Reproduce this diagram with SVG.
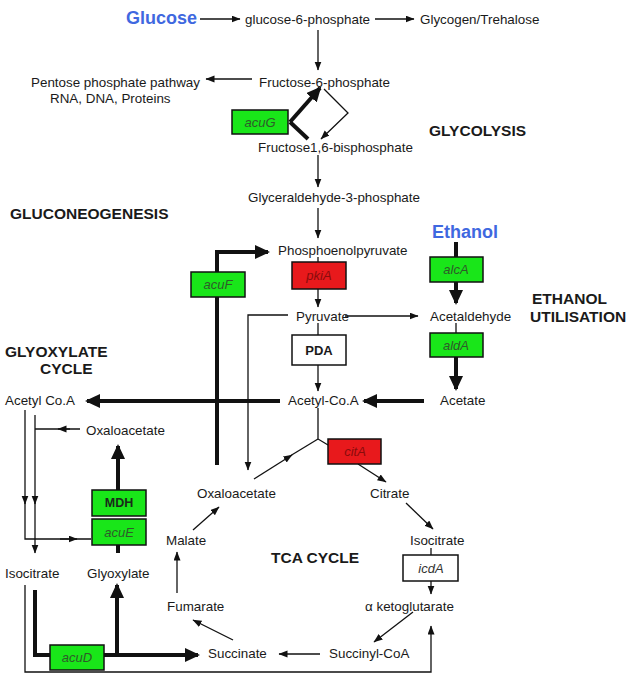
<svg xmlns="http://www.w3.org/2000/svg" width="627" height="676" viewBox="0 0 627 676">
<defs>
<style>
text{font-family:"Liberation Sans",Arial,sans-serif;fill:#1a1a1a}
.t{font-size:13.4px}
.h{font-size:15.5px;font-weight:bold}
.blue{font-size:18px;font-weight:bold;fill:#3f68e0}
.g{fill:#19e619;stroke:#111;stroke-width:1.5}
.r{fill:#e8191c;stroke:#111;stroke-width:1.5}
.w{fill:#fff;stroke:#111;stroke-width:1.5}
.gi{font-size:13px;font-style:italic;text-anchor:middle;fill:#2f5a2a}
.ri{font-size:13px;font-style:italic;text-anchor:middle;fill:#8a0c0c}
.wi{font-size:13px;font-style:italic;text-anchor:middle;fill:#333}
.bb{font-size:13px;font-weight:bold;text-anchor:middle;fill:#1a1a1a}
.bg{font-size:12.5px;font-weight:bold;text-anchor:middle;fill:#1a2a1a}
.l{fill:none;stroke:#111;stroke-width:1.3}
.la{fill:none;stroke:#111;stroke-width:1.3;marker-end:url(#ah)}
.k{fill:none;stroke:#111;stroke-width:4}
.ka{fill:none;stroke:#111;stroke-width:4;marker-end:url(#ahT)}
</style>
<marker id="ah" markerUnits="userSpaceOnUse" markerWidth="10" markerHeight="8" refX="8.5" refY="3.5" orient="auto"><path d="M0,0 L9,3.5 L0,7 z" fill="#111"/></marker>
<marker id="ahT" markerUnits="userSpaceOnUse" markerWidth="16" markerHeight="15" refX="13" refY="7" orient="auto"><path d="M0,0 L15,7 L0,14 z" fill="#111"/></marker>
</defs>

<g id="connectors">
<line class="la" x1="200" y1="19" x2="240" y2="19"/>
<line class="la" x1="375" y1="19" x2="414" y2="19"/>
<line class="la" x1="318" y1="30" x2="318" y2="70"/>
<line class="la" x1="252" y1="79" x2="206" y2="79"/>
<polyline class="la" points="324,89 348,113 321,139"/>
<line class="k" x1="308" y1="139" x2="290" y2="122"/>
<line class="ka" x1="290" y1="122" x2="320" y2="88"/>
<line class="la" x1="318" y1="155" x2="318" y2="187"/>
<line class="la" x1="318" y1="208" x2="318" y2="238"/>
<polyline class="ka" points="217,465 217,252 268,252"/>
<line class="l" x1="318" y1="257" x2="318" y2="262"/>
<line class="la" x1="318" y1="289" x2="318" y2="307"/>
<line class="la" x1="345" y1="316" x2="418" y2="316"/>
<polyline class="la" points="288,315 248,315 248,470"/>
<line class="l" x1="318" y1="323" x2="318" y2="335"/>
<line class="la" x1="318" y1="365" x2="318" y2="391"/>
<line class="ka" x1="424" y1="401" x2="364" y2="401"/>
<line class="ka" x1="280" y1="401" x2="87" y2="401"/>
<line class="k" x1="456" y1="242" x2="456" y2="257"/>
<line class="ka" x1="456" y1="282" x2="456" y2="303"/>
<line class="l" x1="456" y1="323" x2="456" y2="333"/>
<line class="ka" x1="456" y1="357" x2="456" y2="389"/>
<polyline class="l" points="318,408 318,439 328,445"/>
<line class="la" x1="254" y1="479" x2="292" y2="455"/>
<line class="l" x1="290" y1="456" x2="318" y2="439"/>
<line class="la" x1="358" y1="464" x2="386" y2="482"/>
<line class="la" x1="406" y1="503" x2="433" y2="529"/>
<line class="l" x1="431" y1="548" x2="431" y2="555"/>
<line class="la" x1="431" y1="581" x2="431" y2="594"/>
<line class="la" x1="413" y1="612" x2="374" y2="642"/>
<line class="la" x1="320" y1="654" x2="279" y2="654"/>
<line class="la" x1="233" y1="640" x2="193" y2="620"/>
<line class="la" x1="177" y1="593" x2="177" y2="552"/>
<line class="la" x1="193" y1="530" x2="219" y2="507"/>
<polyline class="la" points="25,585 25,672 431,672 431,626"/>
<line class="la" x1="25" y1="410" x2="25" y2="504"/>
<polyline class="l" points="25,500 25,539 91,539"/>
<line class="la" x1="60" y1="539" x2="77" y2="539"/>
<line class="la" x1="35" y1="415" x2="35" y2="504"/>
<line class="la" x1="35" y1="500" x2="35" y2="553"/>
<line class="l" x1="80" y1="429" x2="35" y2="429"/>
<line class="la" x1="70" y1="429" x2="58" y2="429"/>
<line class="ka" x1="118" y1="490" x2="118" y2="446"/>
<line class="k" x1="118" y1="545" x2="118" y2="553"/>
<polyline class="k" points="35,590 35,655 50,655"/>
<line class="ka" x1="104" y1="655" x2="198" y2="655"/>
<line class="ka" x1="117" y1="655" x2="117" y2="585"/>
</g>

<g id="glucose"><text class="blue" x="126" y="24">Glucose</text></g>
<g id="g6p"><text class="t" x="245" y="24">glucose-6-phosphate</text></g>
<g id="glycogen"><text class="t" x="420" y="24">Glycogen/Trehalose</text></g>
<g id="f6p"><text class="t" x="259" y="87">Fructose-6-phosphate</text></g>
<g id="pentose"><text class="t" x="31" y="87">Pentose phosphate pathway</text><text class="t" x="50" y="103">RNA, DNA, Proteins</text></g>
<g id="acuG"><rect class="g" x="232" y="110" width="56" height="24"/><text class="gi" x="260" y="127">acuG</text></g>
<g id="f16bp"><text class="t" x="258" y="152">Fructose1,6-bisphosphate</text></g>
<g id="glycolysis"><text class="h" x="429" y="136">GLYCOLYSIS</text></g>
<g id="g3p"><text class="t" x="248" y="202">Glyceraldehyde-3-phosphate</text></g>
<g id="gluconeogenesis"><text class="h" x="10" y="219">GLUCONEOGENESIS</text></g>
<g id="pep"><text class="t" x="278" y="255">Phosphoenolpyruvate</text></g>
<g id="acuF"><rect class="g" x="191" y="272" width="54" height="25"/><text class="gi" x="218" y="289">acuF</text></g>
<g id="pkiA"><rect class="r" x="292" y="262" width="54" height="27"/><text class="ri" x="319" y="280">pkiA</text></g>
<g id="pyruvate"><text class="t" x="296" y="321">Pyruvate</text></g>
<g id="pda"><rect class="w" x="292" y="335" width="54" height="30"/><text class="bb" x="319" y="355">PDA</text></g>
<g id="acetylcoa"><text class="t" x="288" y="405">Acetyl-Co.A</text></g>
<g id="ethanol"><text class="blue" x="432" y="238">Ethanol</text></g>
<g id="alcA"><rect class="g" x="430" y="257" width="53" height="25"/><text class="gi" x="456" y="274">alcA</text></g>
<g id="acetaldehyde"><text class="t" x="430" y="321">Acetaldehyde</text></g>
<g id="ethutil"><text class="h" x="532" y="304">ETHANOL</text><text class="h" x="530" y="322">UTILISATION</text></g>
<g id="aldA"><rect class="g" x="430" y="333" width="53" height="24"/><text class="gi" x="456" y="350">aldA</text></g>
<g id="acetate"><text class="t" x="440" y="405">Acetate</text></g>
<g id="glyoxylatecycle"><text class="h" x="5" y="357">GLYOXYLATE</text><text class="h" x="40" y="374">CYCLE</text></g>
<g id="acetylcoa2"><text class="t" x="5" y="405">Acetyl Co.A</text></g>
<g id="oaa2"><text class="t" x="86" y="435">Oxaloacetate</text></g>
<g id="mdh"><rect class="g" x="92" y="490" width="54" height="26"/><text class="bg" x="119" y="507">MDH</text></g>
<g id="acuE"><rect class="g" x="92" y="519" width="54" height="26"/><text class="gi" x="119" y="537">acuE</text></g>
<g id="isocitrate2"><text class="t" x="5" y="578">Isocitrate</text></g>
<g id="glyoxylate"><text class="t" x="87" y="578">Glyoxylate</text></g>
<g id="acuD"><rect class="g" x="50" y="645" width="54" height="25"/><text class="gi" x="77" y="662">acuD</text></g>
<g id="oaa"><text class="t" x="197" y="498">Oxaloacetate</text></g>
<g id="citA"><rect class="r" x="328" y="439" width="53" height="25"/><text class="ri" x="355" y="456">citA</text></g>
<g id="citrate"><text class="t" x="370" y="498">Citrate</text></g>
<g id="isocitrate"><text class="t" x="410" y="545">Isocitrate</text></g>
<g id="icdA"><rect class="w" x="403" y="555" width="55" height="26"/><text class="wi" x="431" y="573">icdA</text></g>
<g id="akg"><text class="t" x="365" y="611">α ketoglutarate</text></g>
<g id="succinylcoa"><text class="t" x="329" y="658">Succinyl-CoA</text></g>
<g id="succinate"><text class="t" x="208" y="658">Succinate</text></g>
<g id="fumarate"><text class="t" x="167" y="611">Fumarate</text></g>
<g id="malate"><text class="t" x="166" y="545">Malate</text></g>
<g id="tca"><text class="h" x="271" y="563">TCA CYCLE</text></g>
</svg>
